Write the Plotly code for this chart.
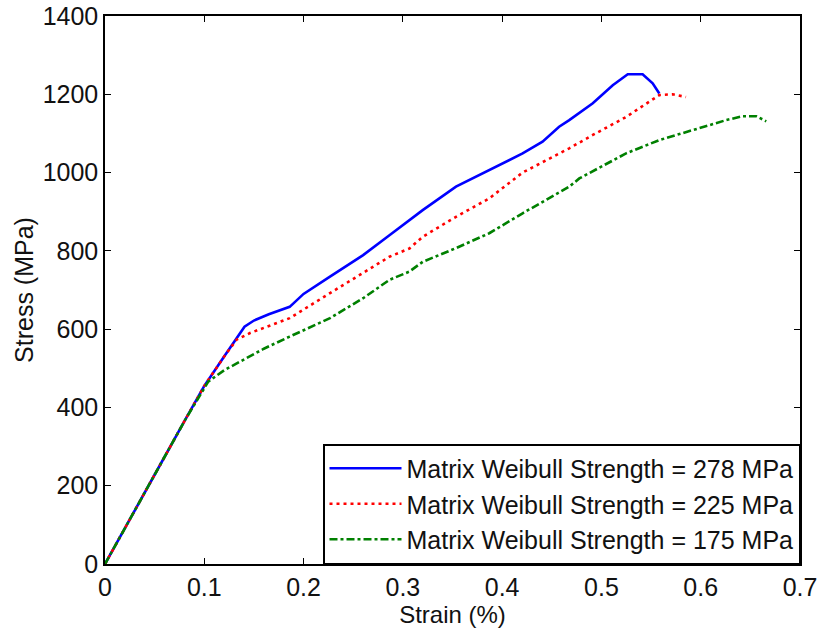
import plotly.graph_objects as go

# Stress-strain response for three matrix Weibull strengths
strain_278 = [0, 0.02, 0.05, 0.08, 0.10, 0.12, 0.1405, 0.15, 0.165, 0.186, 0.20, 0.2266,
              0.26, 0.2865, 0.3066, 0.32, 0.3535, 0.387, 0.4206, 0.4407, 0.4574, 0.4676,
              0.4913, 0.5114, 0.5265, 0.5415, 0.5516, 0.5583]
stress_278 = [0, 90, 228, 365, 455, 530, 606, 622, 638, 657, 690, 734,
              789, 840, 879, 904, 964, 1006, 1049, 1079, 1117, 1134,
              1177, 1223, 1251, 1251, 1228, 1202]

strain_225 = [0, 0.02, 0.05, 0.08, 0.10, 0.12, 0.1325, 0.146, 0.186, 0.2266, 0.26, 0.2865,
              0.3066, 0.32, 0.3535, 0.387, 0.4206, 0.4574, 0.4676, 0.4913, 0.5248, 0.5583,
              0.5718, 0.5852]
stress_225 = [0, 90, 228, 365, 455, 530, 573, 590, 628, 692, 743, 785,
              806, 836, 887, 934, 1000, 1049, 1062, 1096, 1142, 1198,
              1200, 1193]

strain_175 = [0, 0.02, 0.05, 0.08, 0.104, 0.12, 0.1425, 0.16, 0.186, 0.2266, 0.26, 0.2865,
              0.3066, 0.32, 0.3535, 0.387, 0.4206, 0.4676, 0.4777, 0.5248, 0.5583, 0.592,
              0.6256, 0.6424, 0.656, 0.666]
stress_175 = [0, 90, 228, 365, 466, 495, 526, 550, 581, 628, 679, 726,
              747, 772, 807, 845, 896, 964, 985, 1049, 1083, 1108,
              1134, 1144, 1144, 1131]

series_names = ["Matrix Weibull Strength = 278 MPa",
                "Matrix Weibull Strength = 225 MPa",
                "Matrix Weibull Strength = 175 MPa"]

x_ticks = [0, 0.1, 0.2, 0.3, 0.4, 0.5, 0.6, 0.7]
x_tick_labels = ["0", "0.1", "0.2", "0.3", "0.4", "0.5", "0.6", "0.7"]
y_ticks = [0, 200, 400, 600, 800, 1000, 1200, 1400]

FONT = "Liberation Sans, Arial, sans-serif"
TEXT = "#111111"

fig = go.Figure()
fig.add_trace(go.Scatter(x=strain_278, y=stress_278, mode="lines", name=series_names[0],
                         line=dict(color="#0000ff", width=2.6, dash="solid")))
fig.add_trace(go.Scatter(x=strain_225, y=stress_225, mode="lines", name=series_names[1],
                         line=dict(color="#ff0000", width=2.6, dash="3px,4px")))
fig.add_trace(go.Scatter(x=strain_175, y=stress_175, mode="lines", name=series_names[2],
                         line=dict(color="#008000", width=2.6, dash="8px,3px,3px,3px")))

axis_common = dict(
    showline=True, linecolor="#000000", linewidth=1.5, mirror="allticks",
    ticks="inside", ticklen=6, tickwidth=1.2, tickcolor="#000000",
    showgrid=False, zeroline=False,
    tickfont=dict(family=FONT, size=25, color=TEXT),
)

fig.update_xaxes(range=[0, 0.7], tickvals=x_ticks, ticktext=x_tick_labels,
                 title=dict(text="Strain (%)", font=dict(family=FONT, size=24, color=TEXT),
                            standoff=2),
                 **axis_common)
fig.update_yaxes(range=[0, 1400], tickvals=y_ticks,
                 title=dict(text="Stress (MPa)", font=dict(family=FONT, size=25, color=TEXT),
                            standoff=2),
                 **axis_common)

fig.update_layout(
    width=822, height=636,
    margin=dict(l=105, r=22, t=16, b=72, autoexpand=False),
    paper_bgcolor="#ffffff", plot_bgcolor="#ffffff",
    font=dict(family=FONT, size=24, color=TEXT),
    showlegend=True,
    legend=dict(x=1, y=0, xanchor="right", yanchor="bottom",
                bgcolor="#ffffff", bordercolor="#000000", borderwidth=1.5,
                font=dict(family=FONT, size=25, color=TEXT),
                itemwidth=72, tracegroupgap=0),
)

fig.write_html("out.html")
